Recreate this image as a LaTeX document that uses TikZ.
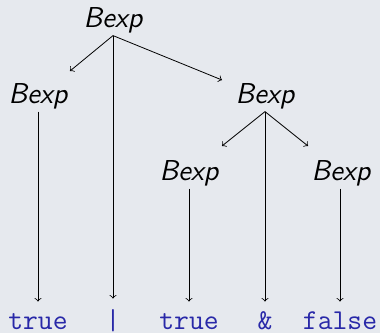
\documentclass[tikz,border=0pt]{standalone}
\usepackage{xcolor}
\definecolor{slidebg}{RGB}{230,233,238}
\definecolor{termblue}{RGB}{40,40,168}
\begin{document}
\begin{tikzpicture}[x=0.5pt,y=-0.5pt,
  nt/.style={font=\fontsize{14.4}{17}\selectfont\sffamily\itshape,
             inner sep=0pt, outer sep=1.5pt, anchor=base},
  tm/.style={font=\fontsize{14.4}{17}\selectfont\ttfamily, text=termblue,
             inner sep=0pt, anchor=base, text height=10pt, text depth=0pt},
  edge/.style={->, line width=0.4pt}]
\fill[slidebg] (0,0) rectangle (380,333);
\useasboundingbox (0,0) rectangle (380,333);

% nonterminals
\node[nt] (r) at (113,27)  {Bexp};
\node[nt] (a) at (38,103)  {Bexp};
\node[nt] (b) at (265,103) {Bexp};
\node[nt] (c) at (189,180) {Bexp};
\node[nt] (d) at (341,180) {Bexp};

% terminals
\node[tm] (t1) at (38,329)  {true};
\node[tm] (t2) at (113,329) {|};
\node[tm] (t3) at (189,329) {true};
\node[tm] (t4) at (265,329) {\&};
\node[tm] (t5) at (340,329) {false};

% ends of the slanted branches
\coordinate (ra) at (70,71);
\coordinate (rb) at (222,80);
\coordinate (bc) at (222,146);
\coordinate (bd) at (308,146);

\draw[edge] (r.south) -- (ra);
\draw[edge] (r.south) -- (rb);
\draw[edge, shorten >=5pt] (r.south) -- (t2.north);
\draw[edge, shorten >=3.5pt] (a.south) -- (t1.north);
\draw[edge] (b.south) -- (bc);
\draw[edge] (b.south) -- (bd);
\draw[edge, shorten >=3.5pt] (b.south) -- (t4.north);
\draw[edge, shorten >=3.5pt] (c.south) -- (t3.north);
\draw[edge, shorten >=3.5pt] (d.south -| t5.north) -- (t5.north);
\end{tikzpicture}
\end{document}
